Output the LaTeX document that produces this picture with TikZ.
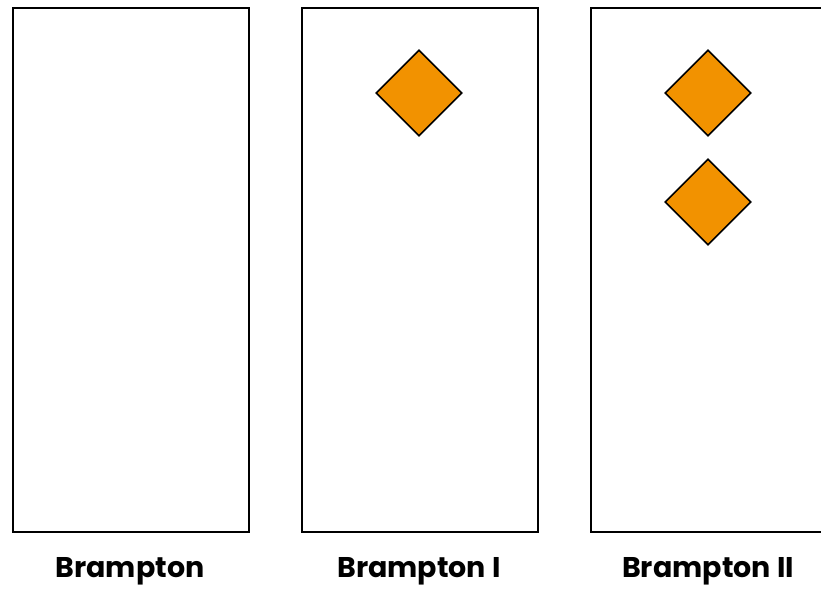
\documentclass[tikz,border=0pt]{standalone}
\usepackage{fontspec}
\setmainfont{Poppins}
\usepackage{xcolor}
\usetikzlibrary{positioning,shapes.geometric}
\definecolor{Amber}{HTML}{F29200}
\begin{document}
\begin{tikzpicture}[
  x=1pt,y=-1pt,
  panel/.style={draw=black,line width=2pt,fill=white,minimum width=236pt,minimum height=524pt,inner sep=0pt,anchor=north west},
  gem/.style={diamond,draw=black,line width=1.6pt,fill=Amber,minimum width=86pt,minimum height=86pt,inner sep=0pt},
  caption/.style={font=\fontsize{28.5}{30}\selectfont\bfseries,inner sep=0pt,anchor=base}
]
\useasboundingbox (0,0) rectangle (821,590);
\begin{scope}
\clip (0,0) rectangle (821,590);
\foreach \x/\n in {12/a,301/b,590/c}{
  \node[panel] (box\n) at (\x,7) {};
}
\node[gem] (gemb) at (419,93) {};
\node[gem] (gemc) at (708,93) {};
\node[gem] (gemd) at (708,202) {};
\end{scope}
\node[caption] (laba) at (130,577) {Brampton};
\node[caption] (labb) at (419,577) {Brampton I};
\node[caption] (labc) at (708,577) {Brampton II};
\end{tikzpicture}
\end{document}
